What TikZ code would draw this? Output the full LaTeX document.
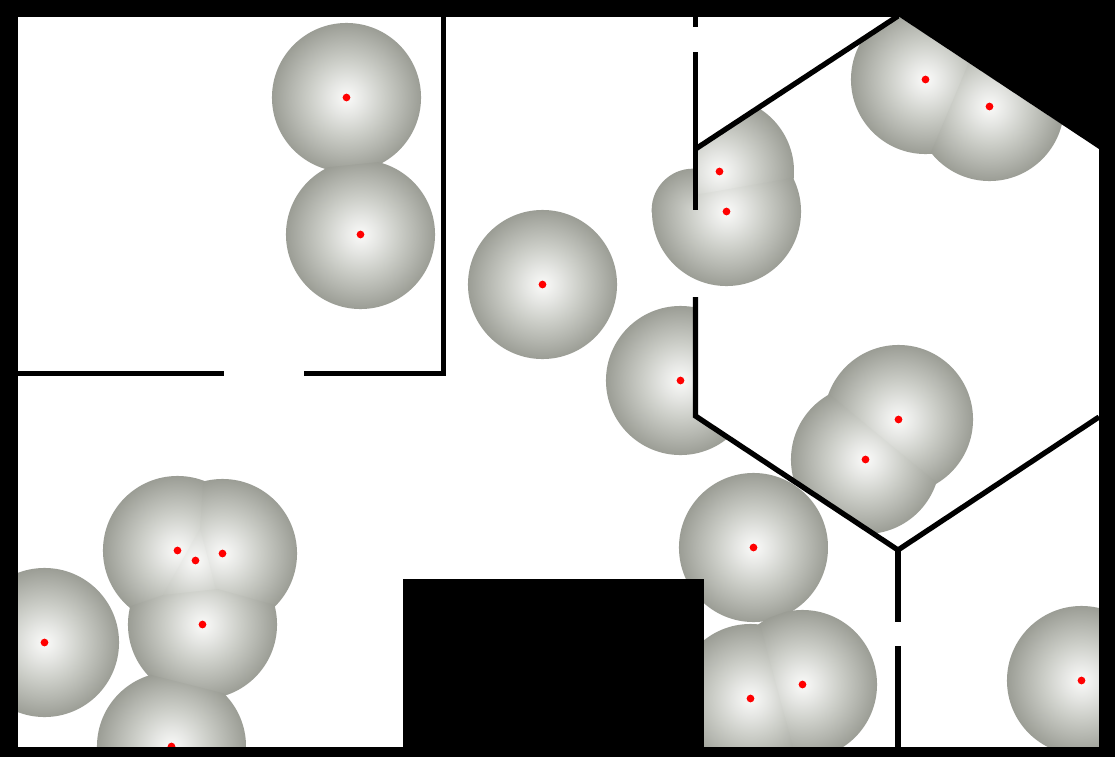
\documentclass[tikz,border=0pt]{standalone}
\usetikzlibrary{calc}
\definecolor{gA}{RGB}{250,250,249}
\definecolor{gB}{RGB}{228,229,226}
\definecolor{gC}{RGB}{204,206,200}
\definecolor{gD}{RGB}{180,182,175}
\definecolor{gE}{RGB}{155,157,149}
\pgfdeclareradialshading{glow}{\pgfpointorigin}{color(0bp)=(gA); color(6.25bp)=(gB); color(12.5bp)=(gC); color(18.75bp)=(gD); color(25bp)=(gE); color(50bp)=(gE)}
% the part of a lamp's field that bends round a wall end (starts at 33.5/75 of the range)
\pgfdeclareradialshading{glowbent}{\pgfpointorigin}{color(0bp)=(gC!78!gB); color(2.3bp)=(gC); color(13.6bp)=(gD); color(25bp)=(gE); color(50bp)=(gE)}
\tikzset{
  wall/.style={line width=3.95pt,black},
  solid block/.style={fill=black,draw=none},
  lamp dot/.style={fill=red,draw=none},
  lamp field/.style={shading=glow}
}
\newcommand{\nearer}[2]{\clip ($(#1)!.5!(#2)!-1pt!(#1)!800pt!90:(#1)$) -- ($(#1)!.5!(#2)!-1pt!(#1)!800pt!-90:(#1)$) -- ($(#1)!.5!(#2)!-1pt!(#1)!1600pt!(#1)$) -- cycle;}
\newcommand{\field}[1]{\shade[lamp field] (#1) circle[radius=55.9pt];}
\begin{document}
\begin{tikzpicture}[x=0.75pt,y=-0.75pt]
\useasboundingbox (0,0) rectangle (1115,757);
\fill[white] (0,0) rectangle (1115,757);
% lamps
\coordinate (a1) at (346.5,97.5);
\coordinate (a2) at (360.5,234.5);
\coordinate (b1) at (542.5,284.5);
\coordinate (c1) at (719.5,171.5);
\coordinate (c2) at (726.5,211.5);
\coordinate (d1) at (925.5,79.5);
\coordinate (d2) at (989.5,106.5);
\coordinate (e1) at (680.5,380.5);
\coordinate (f1) at (898.5,419.5);
\coordinate (f2) at (865.5,459.5);
\coordinate (g1) at (753.5,547.5);
\coordinate (h1) at (802.5,684.5);
\coordinate (h2) at (750.5,698.5);
\coordinate (i1) at (1081.5,680.5);
\coordinate (j1) at (44.5,642.5);
\coordinate (k1) at (177.5,550.5);
\coordinate (k2) at (195.5,560.5);
\coordinate (k3) at (222.5,553.5);
\coordinate (k4) at (202.5,624.5);
\coordinate (k5) at (171.5,746.5);
% wall corners
\coordinate (hexNW) at (695.5,149);
\coordinate (hexN) at (898,16);
\coordinate (hexNE) at (1099,149);
\coordinate (hexSE) at (1099,417);
\coordinate (hexS) at (898,550);
\coordinate (hexSW) at (695.5,416);
\coordinate (wallEnd) at (695.5,210);
\coordinate (wallCorner) at (693,210);
% fields
\begin{scope}\nearer{a1}{a2}\field{a1}\end{scope}
\begin{scope}\nearer{a2}{a1}\field{a2}\end{scope}
\field{b1}
\begin{scope}
  \clip (hexNW) -- (hexN) -- (hexN |- hexSW) -- (hexSW) -- cycle;
  \nearer{c1}{c2}\field{c1}
\end{scope}
\begin{scope}
  \clip (600,100) rectangle (695.5,212);
  \shade[shading=glowbent] (wallCorner) circle[radius=31pt];
\end{scope}
\begin{scope}
  \clip (695.5,0) -- (1100,0) -- (1100,400) -- (600,400) -- (600,211) -- (wallEnd) -- cycle;
  \nearer{c2}{c1}\field{c2}
\end{scope}
\begin{scope}
  \clip (hexNW) -- (hexN) -- (hexNE) -- (hexSE) -- (hexS) -- (hexSW) -- cycle;
  \begin{scope}\nearer{d1}{d2}\field{d1}\end{scope}
  \begin{scope}\nearer{d2}{d1}\field{d2}\end{scope}
  \begin{scope}\nearer{f1}{f2}\field{f1}\end{scope}
  \begin{scope}\nearer{f2}{f1}\field{f2}\end{scope}
\end{scope}
\begin{scope}
  \clip (wallEnd) -- (hexSW) -- (hexS) -- (0,550) -- (0,210) -- cycle;
  \field{e1}
\end{scope}
\begin{scope}
  \clip (hexSW) -- (hexS) -- (898,757) -- (600,757) -- (600,416) -- cycle;
  \nearer{g1}{h1}\field{g1}
\end{scope}
\begin{scope}\nearer{h1}{h2}\nearer{h1}{g1}\field{h1}\end{scope}
\begin{scope}\nearer{h2}{h1}\field{h2}\end{scope}
\field{i1}
\field{j1}
\begin{scope}\nearer{k1}{k2}\nearer{k1}{k3}\nearer{k1}{k4}\field{k1}\end{scope}
\begin{scope}\nearer{k2}{k1}\nearer{k2}{k3}\nearer{k2}{k4}\field{k2}\end{scope}
\begin{scope}\nearer{k3}{k1}\nearer{k3}{k2}\nearer{k3}{k4}\field{k3}\end{scope}
\begin{scope}\nearer{k4}{k1}\nearer{k4}{k2}\nearer{k4}{k3}\nearer{k4}{k5}\field{k4}\end{scope}
\begin{scope}\nearer{k5}{k4}\field{k5}\end{scope}
% red dots
\foreach \p in {a1,a2,b1,c1,c2,d1,d2,e1,f1,f2,g1,h1,h2,i1,j1,k1,k2,k3,k4,k5}
  \fill[lamp dot] (\p) circle[radius=2.9pt];
% walls
\draw[wall] (443.5,16) -- (443.5,373.5) -- (304,373.5);
\draw[wall] (18,373.5) -- (224,373.5);
\draw[wall] (695.5,16) -- (695.5,27);
\draw[wall] (695.5,52) -- (wallEnd);
\draw[wall] (695.5,297) -- (hexSW) -- (hexS) -- (hexSE);
\draw[wall] (hexNW) -- (hexN);
\draw[wall] (hexS) -- (898,622);
\draw[wall] (898,646) -- (898,748);
% solid blocks and frame
\fill[solid block] (403,579) rectangle (704,748);
\fill[solid block] (hexN) -- (hexNE) -- (1115,149) -- (1115,0) -- (898,0) -- cycle;
\fill[solid block] (0,0) rectangle (1115,16.5);
\fill[solid block] (0,0) rectangle (18,757);
\fill[solid block] (1099,0) rectangle (1115,757);
\fill[solid block] (0,747) rectangle (1115,757);
\end{tikzpicture}
\end{document}
